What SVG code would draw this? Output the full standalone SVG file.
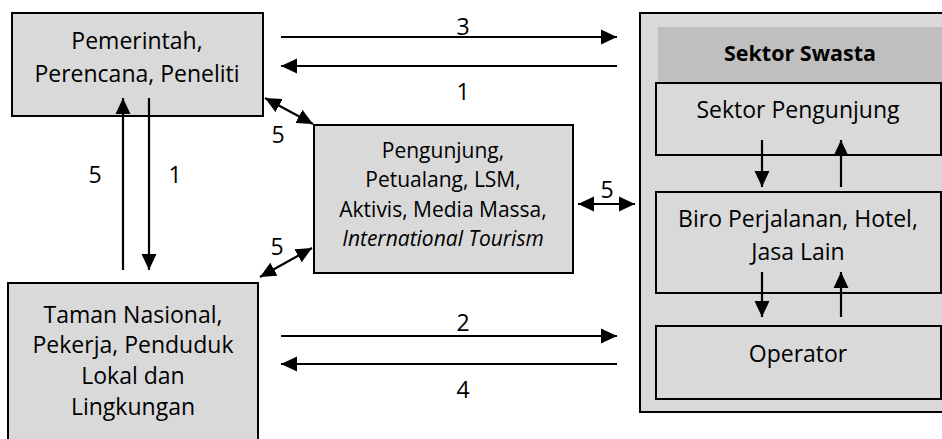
<svg xmlns="http://www.w3.org/2000/svg" width="942" height="439" viewBox="0 0 942 439">
  <style>
    .box { fill: #d9d9d9; stroke: #000; stroke-width: 2; }
    .head { fill: #bfbfbf; stroke: none; }
    .t { font-family: "Open Sans", "Noto Sans", sans-serif; font-size: 23px; fill: #000; text-anchor: middle; }
    .s { font-size: 21px; }
    .b { font-weight: bold; font-size: 21.5px; }
    .i { font-style: italic; }
    .ln { stroke: #000; stroke-width: 2.2; fill: none; }
    .one { marker-end: url(#head); }
    .two { marker-start: url(#head); marker-end: url(#head); }
  </style>
  <defs>
    <marker id="head" markerUnits="userSpaceOnUse" markerWidth="16" markerHeight="16" viewBox="0 0 15 14" refX="15" refY="7" orient="auto-start-reverse">
      <path d="M0,0 L15,7 L0,14 z" fill="#000"/>
    </marker>
  </defs>

  <!-- government / planners / researchers -->
  <g id="pemerintah">
    <rect class="box" x="12" y="13" width="251" height="103"/>
    <text class="t" x="137" y="49">Pemerintah,</text>
    <text class="t" x="137" y="82">Perencana, Peneliti</text>
  </g>

  <!-- national park, workers, locals -->
  <g id="taman">
    <rect class="box" x="8" y="283" width="250" height="170"/>
    <text class="t" x="133" y="323">Taman Nasional,</text>
    <text class="t" x="133" y="353">Pekerja, Penduduk</text>
    <text class="t" x="133" y="384">Lokal dan</text>
    <text class="t" x="133" y="415">Lingkungan</text>
  </g>

  <!-- visitors and other actors -->
  <g id="pengunjung">
    <rect class="box" x="314" y="125" width="259" height="148"/>
    <text class="t s" x="443" y="158">Pengunjung,</text>
    <text class="t s" x="443" y="187">Petualang, LSM,</text>
    <text class="t s" x="443" y="217">Aktivis, Media Massa,</text>
    <text class="t s i" x="443" y="246">International Tourism</text>
  </g>

  <!-- private sector container -->
  <g id="swasta">
    <rect class="box" x="640" y="13" width="320" height="399"/>
    <rect class="head" x="658" y="27" width="290" height="55"/>
    <text class="t b" x="800" y="61">Sektor Swasta</text>
  </g>
  <g id="sektor-pengunjung">
    <rect class="box" x="656" y="83" width="285" height="72"/>
    <text class="t" x="798" y="118">Sektor Pengunjung</text>
  </g>
  <g id="biro">
    <rect class="box" x="656" y="192" width="285" height="101"/>
    <text class="t" x="798" y="227">Biro Perjalanan, Hotel,</text>
    <text class="t" x="798" y="260">Jasa Lain</text>
  </g>
  <g id="operator">
    <rect class="box" x="656" y="326" width="285" height="73"/>
    <text class="t" x="798" y="362">Operator</text>
  </g>

  <!-- connectors -->
  <g id="connectors">
    <line class="ln one" x1="281" y1="37" x2="617" y2="37"/>
    <line class="ln one" x1="617" y1="66" x2="281" y2="66"/>
    <line class="ln one" x1="281" y1="336" x2="617" y2="336"/>
    <line class="ln one" x1="617" y1="364" x2="281" y2="364"/>
    <line class="ln one" x1="123" y1="270" x2="123" y2="98"/>
    <line class="ln one" x1="149" y1="98" x2="149" y2="270"/>
    <line class="ln two" x1="265" y1="98" x2="313" y2="124"/>
    <line class="ln two" x1="312" y1="248" x2="260" y2="277"/>
    <line class="ln two" x1="578" y1="204" x2="635" y2="204"/>
    <line class="ln one" x1="762" y1="140" x2="762" y2="187"/>
    <line class="ln one" x1="841" y1="187" x2="841" y2="140"/>
    <line class="ln one" x1="762" y1="272" x2="762" y2="317"/>
    <line class="ln one" x1="841" y1="317" x2="841" y2="272"/>
  </g>

  <!-- connector labels -->
  <g id="labels">
    <text class="t" x="463" y="35">3</text>
    <text class="t" x="463" y="100">1</text>
    <text class="t" x="463" y="331">2</text>
    <text class="t" x="463" y="398">4</text>
    <text class="t" x="95" y="183">5</text>
    <text class="t" x="175" y="183">1</text>
    <text class="t" x="278" y="143">5</text>
    <text class="t" x="277" y="255">5</text>
    <text class="t" x="607" y="198">5</text>
  </g>
</svg>
